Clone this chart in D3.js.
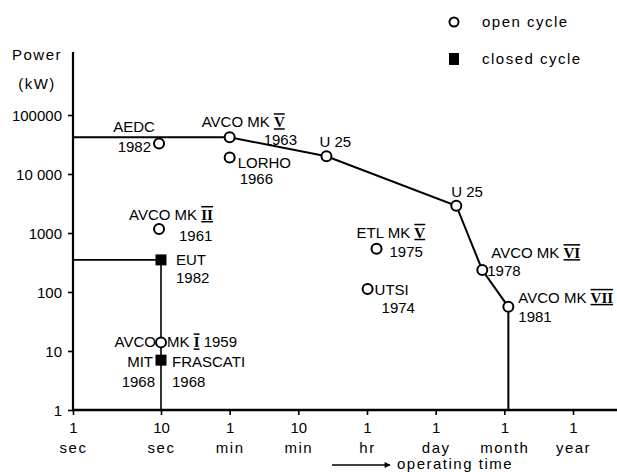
<!DOCTYPE html>
<html><head><meta charset="utf-8">
<script src="https://cdn.jsdelivr.net/npm/d3@7"></script>
<style>
body{margin:0;background:#fff}
svg{display:block;background:#fff}
text{font-family:"Liberation Sans",Arial,sans-serif;fill:#000;font-size:15px}
.lc{letter-spacing:1.5px}
</style>
</head><body><svg id="c" width="617" height="472"></svg>
<script>
// ---- data ----
const xTickSeconds = [1, 10, 60, 600, 3600, 86400, 2592000, 31536000];
const xTickNumbers = ["1", "10", "1", "10", "1", "1", "1", "1"];
const xTickUnits = ["sec", "sec", "min", "min", "hr", "day", "month", "year"];
const yTickValues = [1, 10, 100, 1000, 10000, 100000];
const yTickLabels = ["1", "10", "100", "1000", "10 000", "100000"];

const openNames = ["AEDC", "AVCO MK V", "LORHO", "U 25", "U 25", "AVCO MK VI", "AVCO MK VII", "ETL MK V", "UTSI", "AVCO MK II", "AVCO MK I"];
const openYears = ["1982", "1963", "1966", "", "", "1978", "1981", "1975", "1974", "1961", "1959"];
const openTime = [9.5, 60, 60, 1250, 240000, 870000, 3000000, 5600, 3700, 9.5, 10];
const openPower = [33000, 42000, 19000, 20000, 2900, 235, 56, 540, 112, 1170, 14];
const openEnvelope = [1, 3, 4, 5, 6];

const closedNames = ["EUT", "MIT FRASCATI"];
const closedYears = ["1982", "1968"];
const closedTime = [10, 10];
const closedPower = [350, 7];
const closedEnvelope = [0];

const legendLabels = ["open cycle", "closed cycle"];

// ---- label layout (offsets from the marker) ----
const openLabelLayout = [
  [{p: d => d.name, dx: -25, dy: -11, a: "middle"}, {p: d => d.year, dx: -8, dy: 9, a: "end"}],
  [{p: d => d.name, dx: -28, dy: -10, a: "start"}, {p: d => d.year, dx: 34, dy: 8, a: "start"}],
  [{p: d => d.name, dx: 8, dy: 10, a: "start"}, {p: d => d.year, dx: 10, dy: 26, a: "start"}],
  [{p: d => d.name, dx: -7, dy: -9, a: "start"}],
  [{p: d => d.name, dx: -5, dy: -9, a: "start"}],
  [{p: d => d.name, dx: 9, dy: -12, a: "start"}, {p: d => d.year, dx: 5, dy: 6, a: "start"}],
  [{p: d => d.name, dx: 10, dy: -4, a: "start"}, {p: d => d.year, dx: 10, dy: 15, a: "start"}],
  [{p: d => d.name, dx: -20, dy: -11, a: "start"}, {p: d => d.year, dx: 13, dy: 8, a: "start"}],
  [{p: d => d.name, dx: 7, dy: 6, a: "start"}, {p: d => d.year, dx: 14, dy: 24, a: "start"}],
  [{p: d => d.name, dx: -30, dy: -9, a: "start"}, {p: d => d.year, dx: 20, dy: 12, a: "start"}],
  [{p: d => d.name.split(" ")[0], dx: -5, dy: 5, a: "end"}, {p: d => d.name.split(" ").slice(1).join(" ") + " " + d.year, dx: 6, dy: 5, a: "start"}]
];
const closedLabelLayout = [
  [{p: d => d.name, dx: 15, dy: 5, a: "start"}, {p: d => d.year, dx: 15, dy: 23, a: "start"}],
  [{p: d => d.name.split(" ")[0], dx: -8, dy: 7, a: "end"}, {p: d => d.name.split(" ")[1], dx: 11, dy: 7, a: "start"},
   {p: d => d.year, dx: -6, dy: 27, a: "end"}, {p: d => d.year, dx: 11, dy: 27, a: "start"}]
];

// ---- scales ----
const svg = d3.select("#c");
const M = {left: 73, bottom: 410, top: 115, axisTop: 52, right: 617};
const idx = d3.scaleLinear().domain([0, 1, xTickSeconds.length - 1]).range([M.left, 161, 573]);
const x = d3.scaleLog().domain(xTickSeconds).range(xTickSeconds.map((d, i) => idx(i)));
const y = d3.scaleLog().domain([1, 100000]).range([M.bottom, M.top]);

const openData = openNames.map((n, i) => ({name: n, year: openYears[i], t: openTime[i], p: openPower[i], layout: openLabelLayout[i]}));
const closedData = closedNames.map((n, i) => ({name: n, year: closedYears[i], t: closedTime[i], p: closedPower[i], layout: closedLabelLayout[i]}));

// ---- axes ----
const yAxis = svg.append("g").attr("transform", `translate(${M.left},0)`)
  .call(d3.axisLeft(y).tickValues(yTickValues).tickFormat((d, i) => yTickLabels[i]).tickSize(5).tickPadding(6));
yAxis.select(".domain").remove();
yAxis.selectAll(".tick line").attr("stroke", "#000").attr("stroke-width", 1.6);
yAxis.selectAll(".tick text").attr("font-size", 15).attr("font-family", "Liberation Sans, Arial, sans-serif").attr("fill", "#000").attr("dy", "0.36em");

const xAxis = svg.append("g").attr("transform", `translate(0,${M.bottom})`)
  .call(d3.axisBottom(x).tickValues(xTickSeconds).tickFormat(() => "").tickSize(5));
xAxis.select(".domain").remove();
xAxis.selectAll(".tick line").attr("stroke", "#000").attr("stroke-width", 1.6);
xAxis.selectAll(".tick").each(function (d, i) {
  const g = d3.select(this);
  g.append("text").attr("text-anchor", "middle").attr("y", 23).attr("font-size", 15).attr("font-family", "Liberation Sans, Arial, sans-serif").attr("fill", "#000").text(xTickNumbers[i]);
  g.append("text").attr("text-anchor", "middle").attr("y", 43).attr("font-size", 15).attr("font-family", "Liberation Sans, Arial, sans-serif").attr("fill", "#000").attr("class", "lc").text(xTickUnits[i]);
});

svg.append("line").attr("x1", M.left).attr("x2", M.left).attr("y1", M.axisTop).attr("y2", M.bottom + 1)
  .attr("stroke", "#000").attr("stroke-width", 2.2);
svg.append("line").attr("x1", M.left - 1).attr("x2", M.right).attr("y1", M.bottom).attr("y2", M.bottom)
  .attr("stroke", "#000").attr("stroke-width", 2.6);

svg.append("text").attr("x", 12).attr("y", 60).attr("class", "lc").text("Power");
svg.append("text").attr("x", 37).attr("y", 89).attr("text-anchor", "middle").attr("class", "lc").text("(kW)");

// operating time arrow
svg.append("defs").append("marker").attr("id", "ah").attr("viewBox", "0 0 10 10").attr("refX", 9).attr("refY", 5)
  .attr("markerWidth", 8).attr("markerHeight", 6).attr("markerUnits", "userSpaceOnUse").attr("orient", "auto")
  .append("path").attr("d", "M0,0L10,5L0,10Z").attr("fill", "#000");
svg.append("line").attr("x1", 332).attr("x2", 390).attr("y1", 465).attr("y2", 465)
  .attr("stroke", "#000").attr("stroke-width", 1.3).attr("marker-end", "url(#ah)");
svg.append("text").attr("x", 397).attr("y", 469).attr("class", "lc").text("operating time");

// ---- envelopes ----
const line = d3.line().x(d => x(d[0])).y(d => y(d[1]));
const openPts = [[1, openPower[openEnvelope[0]]]]
  .concat(openEnvelope.map(i => [openTime[i], openPower[i]]))
  .concat([[openTime[openEnvelope[openEnvelope.length - 1]], 1]]);
svg.append("path").attr("d", line(openPts)).attr("fill", "none").attr("stroke", "#000").attr("stroke-width", 2);
const closedPts = [[1, closedPower[closedEnvelope[0]]]]
  .concat(closedEnvelope.map(i => [closedTime[i], closedPower[i]]))
  .concat([[closedTime[closedEnvelope[0]], 1]]);
svg.append("path").attr("d", line(closedPts)).attr("fill", "none").attr("stroke", "#000").attr("stroke-width", 1.6);

// ---- markers ----
svg.selectAll("circle.open").data(openData).enter().append("circle").attr("class", "open")
  .attr("cx", d => x(d.t)).attr("cy", d => y(d.p)).attr("r", 5)
  .attr("fill", "#fff").attr("stroke", "#000").attr("stroke-width", 2);
svg.selectAll("rect.closed").data(closedData).enter().append("rect").attr("class", "closed")
  .attr("x", d => x(d.t) - 5.5).attr("y", d => y(d.p) - 5.5).attr("width", 11).attr("height", 11).attr("fill", "#000");

// ---- labels with barred roman numerals ----
function writeLabel(sel, str) {
  const m = str.match(/^(.*MK )([IVX]+)(.*)$/);
  if (!m) { sel.text(str); return; }
  sel.append("tspan").text(m[1]);
  sel.append("tspan").text(m[2]).style("font-family", "Liberation Serif, serif").style("font-weight", "bold")
    .style("text-decoration", "overline underline");
  if (m[3]) sel.append("tspan").text(m[3]);
}
function drawLabels(data) {
  data.forEach(d => {
    const cx = x(d.t), cy = y(d.p);
    d.layout.forEach(l => {
      const s = l.p(d);
      if (!s) return;
      const t = svg.append("text").attr("x", cx + l.dx).attr("y", cy + l.dy).attr("text-anchor", l.a);
      writeLabel(t, s);
    });
  });
}
drawLabels(openData);
drawLabels(closedData);

// ---- legend ----
svg.append("circle").attr("cx", 454).attr("cy", 22).attr("r", 4.5).attr("fill", "#fff").attr("stroke", "#000").attr("stroke-width", 2);
svg.append("rect").attr("x", 449).attr("y", 53).attr("width", 10).attr("height", 12).attr("fill", "#000");
svg.append("text").attr("x", 482).attr("y", 27).attr("class", "lc").text(legendLabels[0]);
svg.append("text").attr("x", 482).attr("y", 64).attr("class", "lc").text(legendLabels[1]);
</script>
</body></html>
